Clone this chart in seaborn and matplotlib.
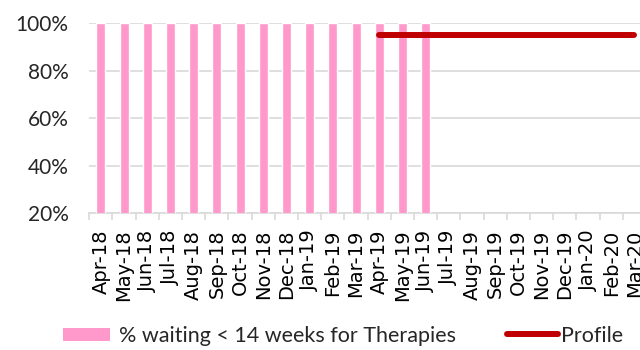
import numpy as np
import pandas as pd
import matplotlib
matplotlib.use("Agg")
import matplotlib.pyplot as plt
from matplotlib.patches import Patch
from matplotlib.lines import Line2D
from matplotlib.ticker import PercentFormatter, FixedLocator
import seaborn as sns

# Monthly categories (financial years 2018/19 and 2019/20)
months = ["Apr-18", "May-18", "Jun-18", "Jul-18", "Aug-18", "Sep-18", "Oct-18",
          "Nov-18", "Dec-18", "Jan-19", "Feb-19", "Mar-19", "Apr-19", "May-19",
          "Jun-19", "Jul-19", "Aug-19", "Sep-19", "Oct-19", "Nov-19", "Dec-19",
          "Jan-20", "Feb-20", "Mar-20"]

# % waiting < 14 weeks for Therapies (reported months only)
therapies = [1.00, 1.00, 1.00, 1.00, 1.00, 1.00, 1.00, 1.00, 1.00, 1.00,
             1.00, 1.00, 1.00, 1.00, 1.00]

# Profile target from Apr-19 onwards
profile_months = ["Apr-19", "May-19", "Jun-19", "Jul-19", "Aug-19", "Sep-19",
                  "Oct-19", "Nov-19", "Dec-19", "Jan-20", "Feb-20", "Mar-20"]
profile = [0.95] * 12

yticks = [0.2, 0.4, 0.6, 0.8, 1.0]

bar_label = "% waiting < 14 weeks for Therapies"
line_label = "Profile"

df = pd.DataFrame({"month": months,
                   "value": therapies + [np.nan] * (len(months) - len(therapies))})
prof = pd.DataFrame({"pos": [months.index(m) for m in profile_months],
                     "value": profile})

sns.set_theme(style="white")
plt.rcParams["font.family"] = ["DejaVu Sans"]

PINK = "#FF99CC"
RED = "#C00000"
GRID = "#D9D9D9"

fig = plt.figure(figsize=(6.4, 3.5), dpi=100)
ax = fig.add_axes([89.3 / 640, 137 / 350, 556.7 / 640, 189.7 / 350])

sns.barplot(data=df, x="month", y="value", order=months, color=PINK,
            saturation=1, width=0.39, ax=ax, zorder=3)
sns.lineplot(data=prof, x="pos", y="value", color=RED, linewidth=4.3,
             solid_capstyle="round", ax=ax, zorder=4)

ax.set_xlim(-0.5, len(months) - 0.5)
ax.set_ylim(yticks[0], yticks[-1])
ax.set_yticks(yticks)
ax.yaxis.set_major_formatter(PercentFormatter(1.0, decimals=0))
ax.set_xlabel("")
ax.set_ylabel("")

# Horizontal gridlines behind the bars
ax.grid(axis="y", color=GRID, linewidth=1.2, zorder=0)
ax.grid(axis="x", visible=False)
ax.set_axisbelow(True)

for s in ["top", "right", "left"]:
    ax.spines[s].set_visible(False)
ax.spines["bottom"].set_color(GRID)
ax.spines["bottom"].set_linewidth(1.2)

# Category labels, with tick marks at the category boundaries
ax.set_xticks(range(len(months)))
ax.set_xticklabels(months, rotation=90, fontsize=14, color="black",
                   family="DejaVu Sans")
ax.tick_params(axis="x", which="major", length=0, pad=12)
ax.xaxis.set_minor_locator(FixedLocator(np.arange(-0.5, len(months), 1.0)))
ax.tick_params(axis="x", which="minor", length=5, width=1.2, color=GRID,
               direction="out", bottom=True)
ax.tick_params(axis="y", length=0, pad=15, labelsize=15, labelcolor="#262626")
for t in ax.get_yticklabels():
    t.set_family("Lato")

# Legend entries below the chart
leg1 = fig.legend(handles=[Patch(facecolor=PINK, edgecolor="none")],
                  labels=[bar_label], loc="center left",
                  bbox_to_anchor=(52 / 640, 1 - 336 / 350), frameon=False,
                  prop={"family": "Lato", "size": 15.5}, handlelength=2.2,
                  handleheight=0.55, handletextpad=0.4, borderpad=0,
                  labelcolor="#262626")
leg2 = fig.legend(handles=[Line2D([0], [0], color=RED, linewidth=4.3,
                                  solid_capstyle="round")],
                  labels=[line_label], loc="center left",
                  bbox_to_anchor=(496 / 640, 1 - 336 / 350), frameon=False,
                  prop={"family": "Lato", "size": 15.5}, handlelength=2.4,
                  handletextpad=0.1, borderpad=0, labelcolor="#262626")

fig.savefig("out.png", dpi=100)
